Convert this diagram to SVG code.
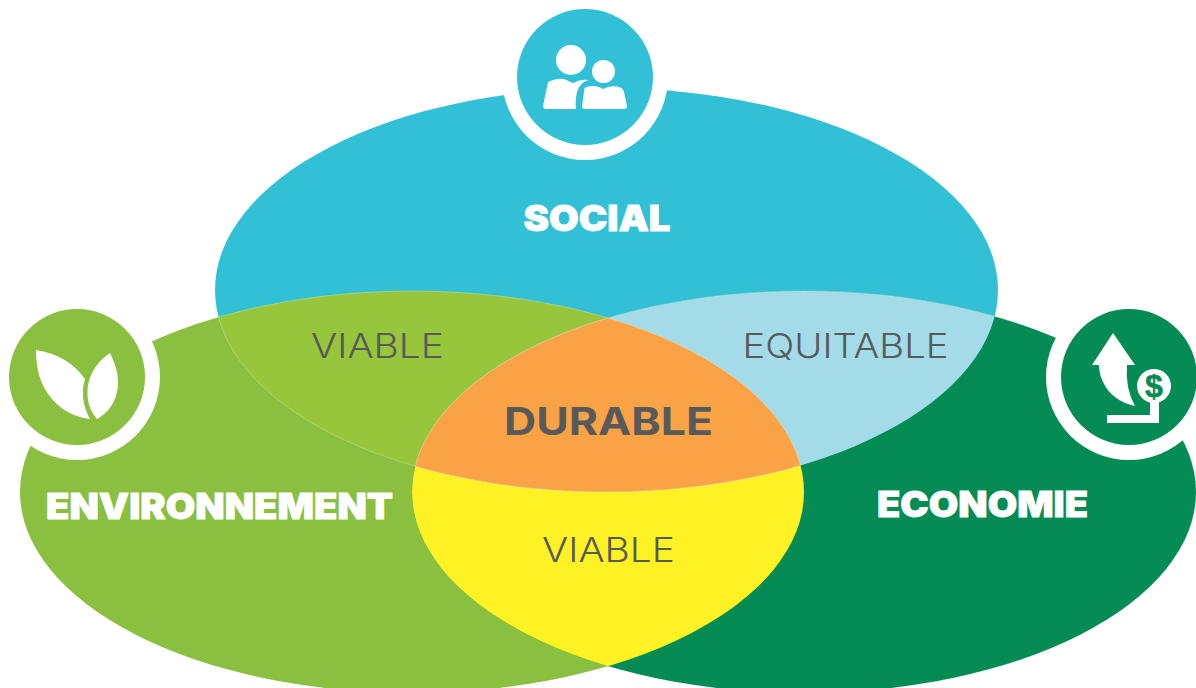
<svg xmlns="http://www.w3.org/2000/svg" width="1196" height="688" viewBox="0 0 1196 688">
<style>
.head{font-family:Inter,"Liberation Sans",sans-serif;font-weight:900;fill:#fff;stroke:#fff;stroke-width:.8;text-anchor:middle;font-size:35px}
.sub{font-family:Inter,"Liberation Sans",sans-serif;font-weight:300;fill:#58595B;text-anchor:middle;font-size:34px}
.core{font-family:Inter,"Liberation Sans",sans-serif;font-weight:700;fill:#58595B;text-anchor:middle;font-size:38px}
.ic{fill:#fff}
.hair{fill:none;stroke:#fff;stroke-width:.6;stroke-opacity:.45}
</style>
<defs>
<clipPath id="cS"><ellipse cx="606.5" cy="290" rx="391.5" ry="202"/></clipPath>
<clipPath id="cL"><ellipse cx="412" cy="492" rx="392" ry="201"/></clipPath>
<clipPath id="cR"><ellipse cx="804" cy="492" rx="392" ry="201"/></clipPath>
</defs>
<rect width="1196" height="688" fill="#fff"/>
<g id="social-set"><ellipse cx="606.5" cy="290" rx="391.5" ry="202" fill="#32C0D6"/></g>
<g id="environment-set"><ellipse cx="412" cy="492" rx="392" ry="201" fill="#8ABF3F"/></g>
<g id="economy-set"><ellipse cx="804" cy="492" rx="392" ry="201" fill="#058B54"/></g>
<g id="overlap-lower"><g clip-path="url(#cL)"><ellipse cx="804" cy="492" rx="392" ry="201" fill="#FFF224"/></g></g>
<g id="overlap-viable"><g clip-path="url(#cS)"><ellipse cx="412" cy="492" rx="392" ry="201" fill="#97C63C"/></g></g>
<g id="overlap-equitable"><g clip-path="url(#cS)"><ellipse cx="804" cy="492" rx="392" ry="201" fill="#A3DCE8"/></g></g>
<g id="overlap-durable"><g clip-path="url(#cS)"><g clip-path="url(#cL)"><ellipse cx="804" cy="492" rx="392" ry="201" fill="#FAA346"/></g></g></g>
<g id="overlap-edges">
<g clip-path="url(#cL)"><ellipse class="hair" cx="606.5" cy="290" rx="391.5" ry="202"/></g>
<g clip-path="url(#cS)"><ellipse class="hair" cx="412" cy="492" rx="392" ry="201"/><ellipse class="hair" cx="804" cy="492" rx="392" ry="201"/></g>
</g>
<g id="social-icon">
<circle cx="585" cy="77" r="83" fill="#fff"/><circle cx="585" cy="77" r="68" fill="#32C0D6"/>
<circle class="ic" cx="571" cy="60" r="15"/><circle class="ic" cx="603.500" cy="71.500" r="11.500"/>
<path class="ic" d="M548 82Q557 78 564 79L573 83Q581 79 588 80Q577 84 576 98Q575 104 576 109L546 109Q543 109 543 106Z"/>
<path class="ic" d="M586 87Q593 85 599 87L603 89Q610 85 619 87Q623 88 624 92L627 106Q627 109 624 109L585 109Q582 109 582 106L584 92Q584 88 586 87Z"/>
</g>
<g id="environment-icon">
<circle cx="77" cy="377" r="83" fill="#fff"/><circle cx="77" cy="377" r="68" fill="#8ABF3F"/>
<path class="ic" d="M36 350Q68 355 85 379Q79 399 90 419Q64 416 48 394Q36 377 36 350Z"/>
<path class="ic" d="M110 353Q121 375 117 392Q113 410 97 419Q85 405 88 385Q92 365 110 353Z"/>
</g>
<g id="economy-icon">
<circle cx="1129" cy="377" r="83" fill="#fff"/><circle cx="1129" cy="377" r="68" fill="#058B54"/>
<path class="ic" d="M1113 333L1135 365H1127Q1125 388 1135 406Q1112 401 1103 382Q1099 374 1099 365H1092Z"/>
<circle class="ic" cx="1154" cy="386" r="17"/>
<path class="ic" d="M1150 401H1159V423H1107V415H1150Z"/>
<text x="1154" y="397" font-family="'Liberation Sans',sans-serif" font-weight="700" font-size="32" fill="#058B54" stroke="#058B54" stroke-width=".5" text-anchor="middle">$</text>
</g>
<g id="labels">
<text class="head" x="597" y="231" textLength="147" lengthAdjust="spacingAndGlyphs">SOCIAL</text>
<text class="head" x="219.500" y="519" textLength="347" lengthAdjust="spacingAndGlyphs">ENVIRONNEMENT</text>
<text class="head" x="982.500" y="517" textLength="211" lengthAdjust="spacingAndGlyphs">ECONOMIE</text>
<text class="sub" x="377.500" y="358" textLength="133" lengthAdjust="spacingAndGlyphs">VIABLE</text>
<text class="sub" x="845.500" y="358" textLength="206" lengthAdjust="spacingAndGlyphs">EQUITABLE</text>
<text class="sub" x="608.500" y="562" textLength="133" lengthAdjust="spacingAndGlyphs">VIABLE</text>
<text class="core" x="608.500" y="435" textLength="209" lengthAdjust="spacingAndGlyphs">DURABLE</text>
</g>
</svg>
